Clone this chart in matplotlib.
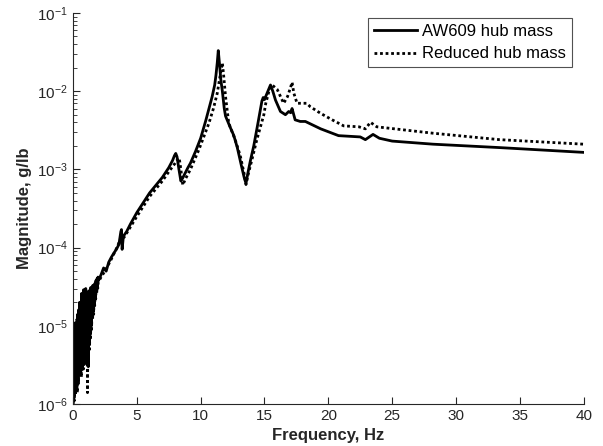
import numpy as np
import matplotlib
matplotlib.use("Agg")
import matplotlib.pyplot as plt

plt.rcParams['font.family'] = ['Liberation Sans', 'DejaVu Sans']

# AW609 hub mass (solid)
freq_aw = [0.04, 0.08, 0.12, 0.16, 0.20, 0.24, 0.28, 0.32, 0.36, 0.40,
           0.44, 0.48, 0.52, 0.56, 0.60, 0.64, 0.68, 0.72, 0.76, 0.80,
           0.84, 0.88, 0.92, 0.96, 1.00, 1.04, 1.08, 1.12, 1.16, 1.20,
           1.24, 1.28, 1.32, 1.36, 1.40, 1.44, 1.48, 1.52, 1.56, 1.60,
           1.64, 1.68, 1.72, 1.76, 1.80, 1.84, 1.88, 1.92, 1.96, 2.00,
           2.2, 2.4, 2.6, 2.8, 3.0, 3.2, 3.4, 3.6, 3.75, 3.8,
           3.85, 3.95, 4.2, 4.5, 5.0, 6.0, 7.0, 7.5, 7.8, 7.95,
           8.05, 8.15, 8.3, 8.45, 8.6, 9.0, 9.2, 9.6, 10.0, 10.4,
           10.9, 11.1, 11.2, 11.3, 11.38, 11.48, 11.58, 11.7, 11.85, 11.95,
           12.3, 12.6, 12.87, 13.2, 13.4, 13.55, 13.7, 13.9, 14.16, 14.5,
           14.8, 14.9, 15.0, 15.2, 15.47, 15.65, 15.86, 16.25, 16.64, 16.9,
           17.05, 17.16, 17.4, 17.8, 18.2, 19.4, 20.8, 22.5, 22.9, 23.5,
           24.0, 25.0, 28.2, 33.4, 40.0]
mag_aw = [6.0e-6, 1.2e-6, 8.0e-6, 1.5e-6, 1.1e-5, 2.0e-6, 9.0e-6, 2.2e-6, 1.4e-5, 1.8e-6,
          1.6e-5, 3.0e-6, 2.0e-5, 2.5e-6, 1.7e-5, 3.5e-6, 2.6e-5, 2.8e-6, 2.2e-5, 4.0e-6,
          2.9e-5, 3.2e-6, 2.4e-5, 5.0e-6, 3.0e-5, 3.5e-6, 2.6e-5, 4.5e-6, 2.2e-5, 3.0e-6,
          2.8e-5, 6.0e-6, 2.5e-5, 8.0e-6, 3.1e-5, 1.0e-5, 2.8e-5, 1.3e-5, 3.3e-5, 1.5e-5,
          3.0e-5, 1.9e-5, 3.5e-5, 2.2e-5, 3.8e-5, 2.8e-5, 4.0e-5, 3.2e-5, 4.2e-5, 3.8e-5,
          4.5e-5, 5.5e-5, 5.0e-5, 6.5e-5, 7.5e-5, 8.5e-5, 9.5e-5, 1.1e-4, 1.6e-4, 1.7e-4,
          9.5e-5, 1.4e-4, 1.6e-4, 2.0e-4, 2.8e-4, 5.0e-4, 7.9e-4, 1.05e-3, 1.3e-3, 1.5e-3,
          1.6e-3, 1.45e-3, 1.0e-3, 7.1e-4, 7.8e-4, 1.05e-3, 1.2e-3, 1.7e-3, 2.5e-3, 4.2e-3,
          8.5e-3, 1.2e-2, 1.6e-2, 2.3e-2, 3.3e-2, 2.2e-2, 1.4e-2, 1.0e-2, 6.0e-3, 4.8e-3,
          3.5e-3, 2.7e-3, 1.9e-3, 1.1e-3, 8.0e-4, 6.6e-4, 9.0e-4, 1.3e-3, 2.0e-3, 4.0e-3,
          7.5e-3, 8.3e-3, 7.8e-3, 9.4e-3, 1.2e-2, 1.0e-2, 7.7e-3, 5.5e-3, 5.0e-3, 5.5e-3,
          5.3e-3, 6.0e-3, 4.3e-3, 4.1e-3, 4.1e-3, 3.3e-3, 2.7e-3, 2.6e-3, 2.4e-3, 2.8e-3,
          2.5e-3, 2.3e-3, 2.1e-3, 1.9e-3, 1.65e-3]

# Reduced hub mass (dotted)
freq_red = [0.02, 0.06, 0.10, 0.14, 0.18, 0.22, 0.26, 0.30, 0.34, 0.38,
            0.42, 0.46, 0.50, 0.54, 0.58, 0.62, 0.66, 0.70, 0.74, 0.78,
            0.82, 0.86, 0.90, 0.94, 0.98, 1.02, 1.06, 1.10, 1.14, 1.18,
            1.22, 1.26, 1.30, 1.34, 1.38, 1.42, 1.46, 1.50, 1.54, 1.58,
            1.62, 1.66, 1.70, 1.74, 1.78, 1.82, 1.86, 1.90, 1.94, 1.98,
            2.2, 2.5, 3.0, 3.5, 3.8, 4.0, 5.0, 6.0, 7.0, 7.5,
            8.0, 8.2, 8.32, 8.45, 8.6, 8.8, 9.2, 9.87, 10.65, 11.0,
            11.3, 11.56, 11.7, 11.8, 11.95, 12.2, 12.7, 13.1, 13.4, 13.55,
            13.75, 14.0, 14.4, 14.95, 15.1, 15.35, 15.6, 16.0, 16.5, 16.8,
            17.03, 17.16, 17.3, 17.55, 18.1, 18.3, 18.6, 19.4, 20.3, 21.2,
            22.4, 22.9, 23.3, 23.8, 28.2, 33.4, 40.0]
mag_red = [1.0e-6, 5.0e-6, 1.1e-6, 7.0e-6, 1.3e-6, 9.0e-6, 1.6e-6, 1.2e-5, 1.4e-6, 1.0e-5,
           2.0e-6, 1.5e-5, 2.5e-6, 1.3e-5, 3.0e-6, 1.8e-5, 2.2e-6, 1.6e-5, 3.5e-6, 2.1e-5,
           2.8e-6, 1.9e-5, 4.0e-6, 2.4e-5, 3.2e-6, 2.0e-5, 4.5e-6, 2.3e-5, 1.4e-6, 1.8e-5,
           3.5e-6, 2.2e-5, 5.0e-6, 2.0e-5, 7.0e-6, 2.5e-5, 9.0e-6, 2.3e-5, 1.2e-5, 2.8e-5,
           1.4e-5, 2.6e-5, 1.8e-5, 3.0e-5, 2.2e-5, 3.2e-5, 2.6e-5, 3.4e-5, 3.0e-5, 3.6e-5,
           4.2e-5, 5.0e-5, 7.1e-5, 1.05e-4, 1.4e-4, 1.35e-4, 2.5e-4, 4.5e-4, 7.1e-4, 9.3e-4,
           1.2e-3, 1.35e-3, 1.4e-3, 1.0e-3, 6.3e-4, 7.5e-4, 1.0e-3, 1.8e-3, 3.9e-3, 6.0e-3,
           9.4e-3, 1.7e-2, 2.3e-2, 1.6e-2, 8.5e-3, 3.9e-3, 2.4e-3, 1.5e-3, 8.9e-4, 6.4e-4,
           9.0e-4, 1.3e-3, 2.4e-3, 5.0e-3, 7.0e-3, 1.0e-2, 1.2e-2, 1.05e-2, 7.0e-3, 8.5e-3,
           1.1e-2, 1.3e-2, 9.4e-3, 7.0e-3, 7.0e-3, 7.0e-3, 6.3e-3, 5.2e-3, 4.3e-3, 3.6e-3,
           3.5e-3, 3.3e-3, 4.0e-3, 3.5e-3, 2.9e-3, 2.4e-3, 2.1e-3]

fig = plt.figure(figsize=(6.03, 4.46), dpi=100)
ax = fig.add_axes([0.121, 0.094, 0.847, 0.877])

ax.semilogy(freq_aw, mag_aw, color='black', lw=2, label='AW609 hub mass')
ax.semilogy(freq_red, mag_red, color='black', lw=2, linestyle=(0, (1, 1)),
            label='Reduced hub mass')

ax.set_xlim(0, 40)
ax.set_ylim(1e-6, 1e-1)
ax.set_xticks([0, 5, 10, 15, 20, 25, 30, 35, 40])
ax.set_xlabel('Frequency, Hz', fontsize=12, fontweight='bold', color='#262626')
ax.set_ylabel('Magnitude, g/lb', fontsize=12, fontweight='bold', color='#262626')

for s in ['top', 'right']:
    ax.spines[s].set_visible(False)
for s in ['left', 'bottom']:
    ax.spines[s].set_color('#262626')
    ax.spines[s].set_linewidth(0.8)
ax.tick_params(which='both', direction='in', labelsize=11, colors='#262626')
ax.tick_params(which='major', length=5)
ax.tick_params(which='minor', length=3)

leg = ax.legend(loc='upper right', bbox_to_anchor=(0.977, 0.987), fontsize=12,
                frameon=True, fancybox=False, edgecolor='#262626',
                handlelength=2.6, borderpad=0.35, labelspacing=0.45,
                handletextpad=0.3, borderaxespad=0)
leg.get_frame().set_linewidth(0.8)

fig.savefig('out.png', dpi=100)
